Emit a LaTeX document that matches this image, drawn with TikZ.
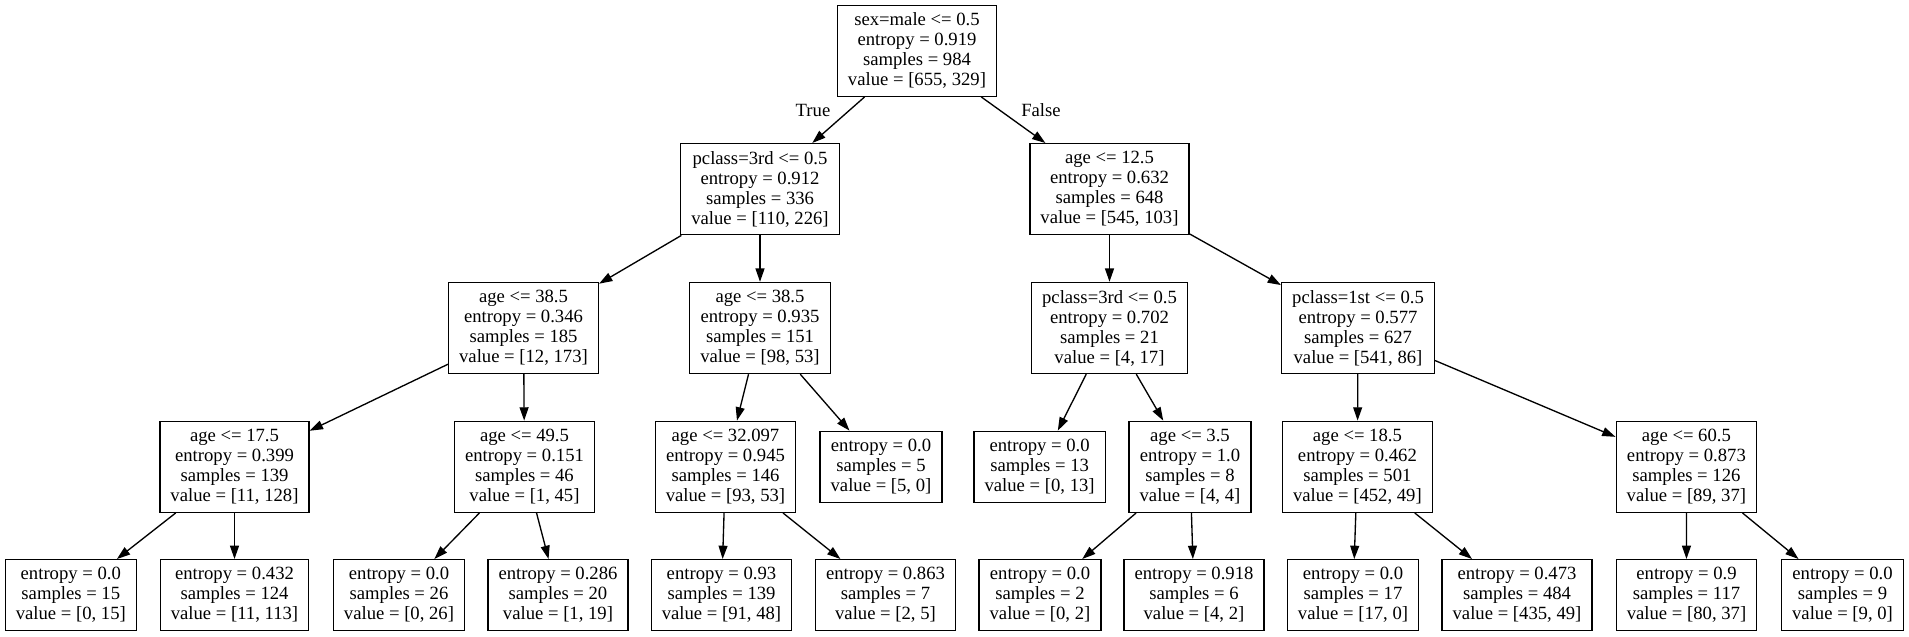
\documentclass[tikz,border=0pt]{standalone}
\usepackage{fontspec}
\setmainfont{Liberation Serif}
\usetikzlibrary{arrows.meta}

\begin{document}
\begin{tikzpicture}[x=0.75pt, y=-0.75pt,
    box/.style={draw, line width=1pt, align=center, inner xsep=7.9pt, inner ysep=0pt,
      font=\fontsize{14pt}{15pt}\selectfont},
    split/.style={box, minimum height=68.3pt},
    leaf/.style={box, minimum height=53.3pt},
    edge/.style={line width=1pt, -{Triangle[length=10pt, width=6.7pt]}},
    lbl/.style={font=\fontsize{14pt}{15pt}\selectfont, inner sep=0pt}]
		\useasboundingbox (0,0) rectangle (1909,636);
		\node[split] (root) at (917,50.7) {sex=male <= 0.5\\entropy = 0.919\\samples = 984\\value = [655, 329]};
		\node[split] (pc3) at (760,189.2) {pclass=3rd <= 0.5\\entropy = 0.912\\samples = 336\\value = [110, 226]};
		\node[split] (ag12) at (1109.5,189.2) {age <= 12.5\\entropy = 0.632\\samples = 648\\value = [545, 103]};
		\node[split] (ag38a) at (523.5,328) {age <= 38.5\\entropy = 0.346\\samples = 185\\value = [12, 173]};
		\node[split] (ag38b) at (760,328) {age <= 38.5\\entropy = 0.935\\samples = 151\\value = [98, 53]};
		\node[split] (pc3b) at (1109.5,328) {pclass=3rd <= 0.5\\entropy = 0.702\\samples = 21\\value = [4, 17]};
		\node[split] (pc1) at (1358,328) {pclass=1st <= 0.5\\entropy = 0.577\\samples = 627\\value = [541, 86]};
		\node[split] (ag17) at (234.5,466.8) {age <= 17.5\\entropy = 0.399\\samples = 139\\value = [11, 128]};
		\node[split] (ag49) at (524.5,466.8) {age <= 49.5\\entropy = 0.151\\samples = 46\\value = [1, 45]};
		\node[split] (ag32) at (725.5,466.8) {age <= 32.097\\entropy = 0.945\\samples = 146\\value = [93, 53]};
		\node[leaf] (lf5) at (881,466.8) {entropy = 0.0\\samples = 5\\value = [5, 0]};
		\node[leaf] (lf13) at (1039.6,466.8) {entropy = 0.0\\samples = 13\\value = [0, 13]};
		\node[split] (ag3) at (1190,466.8) {age <= 3.5\\entropy = 1.0\\samples = 8\\value = [4, 4]};
		\node[split] (ag18) at (1357.4,466.8) {age <= 18.5\\entropy = 0.462\\samples = 501\\value = [452, 49]};
		\node[split] (ag60) at (1686.4,466.8) {age <= 60.5\\entropy = 0.873\\samples = 126\\value = [89, 37]};
		\node[leaf] (lf15) at (70.8,595.2) {entropy = 0.0\\samples = 15\\value = [0, 15]};
		\node[leaf] (lf124) at (234.5,595.2) {entropy = 0.432\\samples = 124\\value = [11, 113]};
		\node[leaf] (lf26) at (399,595.2) {entropy = 0.0\\samples = 26\\value = [0, 26]};
		\node[leaf] (lf20) at (558,595.2) {entropy = 0.286\\samples = 20\\value = [1, 19]};
		\node[leaf] (lf139) at (721.5,595.2) {entropy = 0.93\\samples = 139\\value = [91, 48]};
		\node[leaf] (lf7) at (885.5,595.2) {entropy = 0.863\\samples = 7\\value = [2, 5]};
		\node[leaf] (lf2) at (1040,595.2) {entropy = 0.0\\samples = 2\\value = [0, 2]};
		\node[leaf] (lf6) at (1194,595.2) {entropy = 0.918\\samples = 6\\value = [4, 2]};
		\node[leaf] (lf17) at (1353,595.2) {entropy = 0.0\\samples = 17\\value = [17, 0]};
		\node[leaf] (lf484) at (1517,595.2) {entropy = 0.473\\samples = 484\\value = [435, 49]};
		\node[leaf] (lf117) at (1686.5,595.2) {entropy = 0.9\\samples = 117\\value = [80, 37]};
		\node[leaf] (lf9) at (1842.5,595.2) {entropy = 0.0\\samples = 9\\value = [9, 0]};
		\node[lbl] (tru) at (813,110) {True};
		\node[lbl] (fls) at (1041,110) {False};
		\draw[edge] (root) -- (pc3);
		\draw[edge] (root) -- (ag12);
		\draw[edge] (pc3) -- (ag38a);
		\draw[edge] (pc3) -- (ag38b);
		\draw[edge] (ag12) -- (pc3b);
		\draw[edge] (ag12) -- (pc1);
		\draw[edge] (ag38a) -- (ag17);
		\draw[edge] (ag38a) -- (ag49);
		\draw[edge] (ag38b) -- (ag32);
		\draw[edge] (ag38b) -- (lf5);
		\draw[edge] (pc3b) -- (lf13);
		\draw[edge] (pc3b) -- (ag3);
		\draw[edge] (pc1) -- (ag18);
		\draw[edge] (pc1) -- (ag60);
		\draw[edge] (ag17) -- (lf15);
		\draw[edge] (ag17) -- (lf124);
		\draw[edge] (ag49) -- (lf26);
		\draw[edge] (ag49) -- (lf20);
		\draw[edge] (ag32) -- (lf139);
		\draw[edge] (ag32) -- (lf7);
		\draw[edge] (ag3) -- (lf2);
		\draw[edge] (ag3) -- (lf6);
		\draw[edge] (ag18) -- (lf17);
		\draw[edge] (ag18) -- (lf484);
		\draw[edge] (ag60) -- (lf117);
		\draw[edge] (ag60) -- (lf9);
		\end{tikzpicture}
\end{document}
